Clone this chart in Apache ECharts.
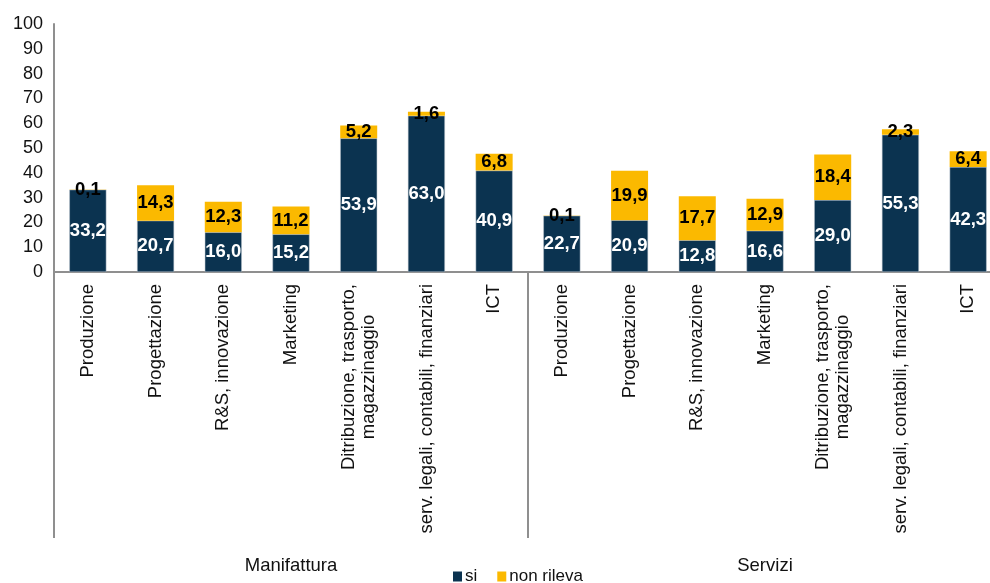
<!DOCTYPE html>
<html>
<head>
<meta charset="utf-8">
<title>Funzioni aziendali</title>
<script src="https://cdn.jsdelivr.net/npm/echarts@6/dist/echarts.min.js"></script>
<style>
  html, body { margin: 0; padding: 0; background: #fff; }
  #chart { width: 990px; height: 583px; }
</style>
</head>
<body>
<div id="chart"></div>
<script>
// Funzioni aziendali, per settore
const functions = [
  'Produzione', 'Progettazione', 'R&S, innovazione', 'Marketing',
  'Ditribuzione, trasporto,\nmagazzinaggio', 'serv. legali, contabili, finanziari', 'ICT'
];
const sectors = ['Manifattura', 'Servizi'];
const categories = functions.concat(functions);

const siValues        = [33.2, 20.7, 16.0, 15.2, 53.9, 63.0, 40.9, 22.7, 20.9, 12.8, 16.6, 29.0, 55.3, 42.3];
const nonRilevaValues = [0.1, 14.3, 12.3, 11.2, 5.2, 1.6, 6.8, 0.1, 19.9, 17.7, 12.9, 18.4, 2.3, 6.4];

const yTicks = { min: 0, max: 100, interval: 10 };

const FONT = "'Liberation Sans', Arial, Helvetica, sans-serif";
const NAVY = '#0b3350';
const GOLD = '#fbb900';
const AXIS_GREY = '#8f8f8f';

const fmt = p => p.value.toFixed(1).replace('.', ',');

const chart = echarts.init(document.getElementById('chart'), null, { renderer: 'canvas' });

chart.setOption({
  animation: false,
  textStyle: { fontFamily: FONT },
  grid: { left: 54, top: 24, width: 948, height: 248, containLabel: false, outerBoundsMode: 'none' },
  legend: {
    left: 453, top: 568, padding: 0,
    itemWidth: 9, itemHeight: 10, itemGap: 20,
    icon: 'rect',
    itemStyle: { borderWidth: 0 },
    textStyle: { fontFamily: FONT, fontSize: 17, color: '#111', padding: [0, 0, 0, -2] },
    data: ['si', 'non rileva']
  },
  xAxis: [
    {
      type: 'category',
      data: categories,
      position: 'bottom',
      axisLine: { lineStyle: { color: AXIS_GREY, width: 2 } },
      axisTick: { show: false },
      axisLabel: {
        interval: 0,
        rotate: 90,
        margin: 12,
        color: '#111',
        formatter: v => v.split('\n').map(l => '{c|' + l + '}').join('\n'),
        rich: { c: { align: 'center', fontFamily: FONT, fontSize: 18.5, lineHeight: 20, color: '#111' } }
      }
    },
    {
      type: 'category',
      data: sectors,
      position: 'bottom',
      offset: 266,
      axisLine: { show: false },
      axisTick: { show: true, inside: true, length: 266, lineStyle: { color: AXIS_GREY, width: 2 } },
      axisLabel: { margin: 18, fontFamily: FONT, fontSize: 18.5, color: '#111' }
    }
  ],
  yAxis: {
    type: 'value',
    min: yTicks.min, max: yTicks.max, interval: yTicks.interval,
    splitLine: { show: false },
    axisTick: { show: false },
    axisLine: { show: true, lineStyle: { color: AXIS_GREY, width: 2 } },
    axisLabel: { margin: 11, fontFamily: FONT, fontSize: 18, color: '#111' }
  },
  series: [
    {
      name: 'si',
      type: 'bar',
      stack: 'tot',
      xAxisIndex: 0,
      barWidth: 37,
      data: siValues,
      itemStyle: { color: NAVY, borderColor: '#b8c3cc', borderWidth: 0.5 },
      label: {
        show: true, position: 'inside', formatter: fmt,
        fontFamily: FONT, fontSize: 18.5, fontWeight: 'bold', color: '#fff'
      }
    },
    {
      name: 'non rileva',
      type: 'bar',
      stack: 'tot',
      xAxisIndex: 0,
      barWidth: 37,
      data: nonRilevaValues,
      itemStyle: { color: GOLD },
      label: {
        show: true, position: 'inside', formatter: fmt,
        fontFamily: FONT, fontSize: 18.5, fontWeight: 'bold', color: '#000'
      }
    }
  ]
});
</script>
</body>
</html>
